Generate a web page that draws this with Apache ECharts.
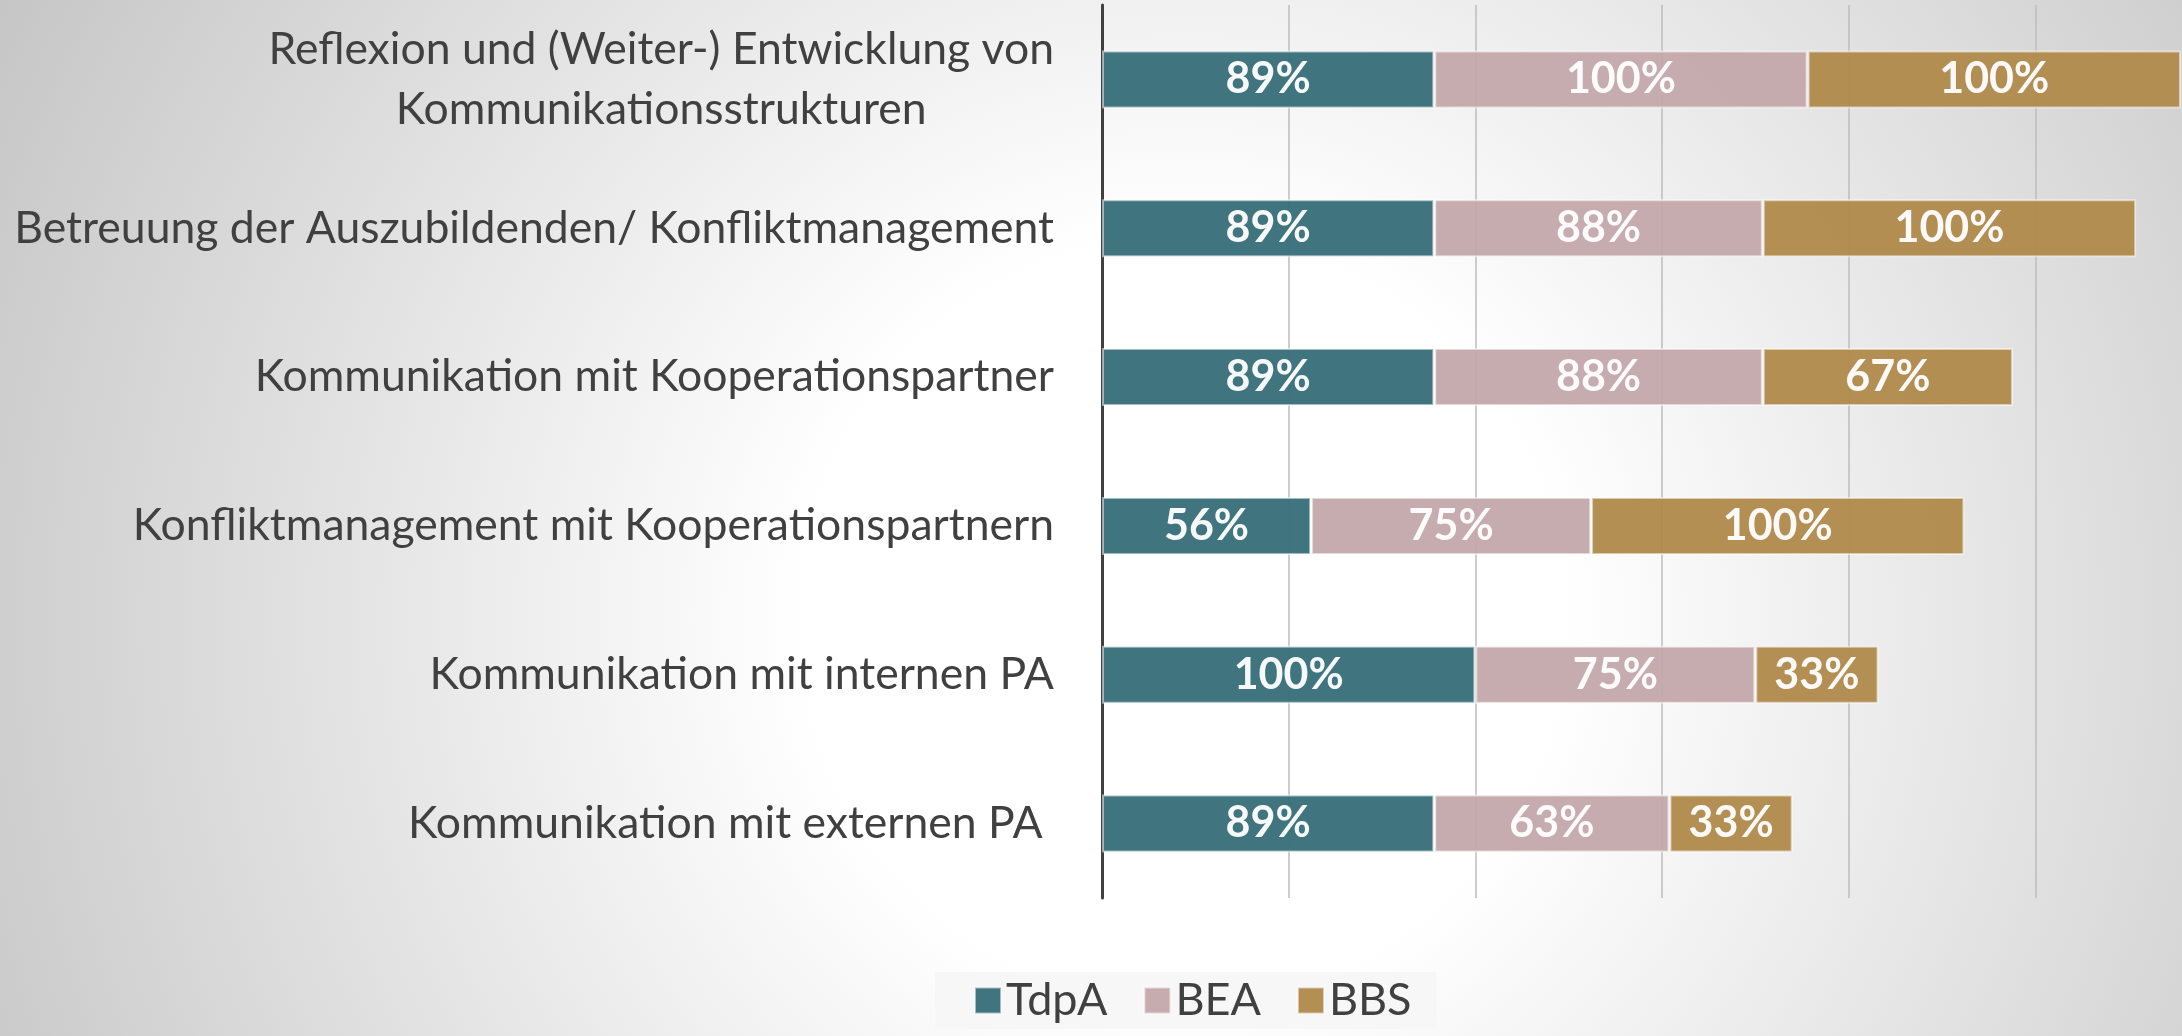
<!DOCTYPE html>
<html>
<head>
<meta charset="utf-8">
<script src="https://cdn.jsdelivr.net/npm/echarts@6/dist/echarts.min.js"></script>
<style>
  html, body { margin: 0; padding: 0; }
  body {
    width: 2182px; height: 1036px; overflow: hidden;
    background: radial-gradient(circle at 1183px 620px, #ffffff 0px, #ffffff 380px, #c6c6c6 1330px);
  }
  #chart { width: 2182px; height: 1036px; }
</style>
</head>
<body>
<div id="chart"></div>
<script>
const categories = [
  'Reflexion und (Weiter-) Entwicklung von\nKommunikationsstrukturen',
  'Betreuung der Auszubildenden/ Konfliktmanagement',
  'Kommunikation mit Kooperationspartner',
  'Konfliktmanagement mit Kooperationspartnern',
  'Kommunikation mit internen PA',
  'Kommunikation mit externen PA '
];
const seriesNames = ['TdpA', 'BEA', 'BBS'];
const tdpa = [89, 89, 89, 56, 100, 89];
const bea  = [100, 88, 88, 75, 75, 63];
const bbs  = [100, 100, 67, 100, 33, 33];
const colors = ['#386e79', '#c4a9ac', '#b08a4c'];

const FONT = 'Lato';
const chart = echarts.init(document.getElementById('chart'), null, { renderer: 'canvas' });

function mkSeries(name, data, color) {
  return {
    name: name,
    type: 'bar',
    stack: 'total',
    data: data,
    barCategoryGap: '61%',
    itemStyle: {
      color: color,
      opacity: 0.96,
      borderColor: 'rgba(255,255,255,0.55)',
      borderWidth: 2
    },
    label: {
      show: true,
      position: 'inside',
      formatter: '{c}%',
      color: '#ffffff',
      fontFamily: FONT,
      fontWeight: 'bold',
      fontSize: 43
    },
    emphasis: { disabled: true }
  };
}

chart.setOption({
  backgroundColor: 'transparent',
  animation: false,
  grid: { left: 1102, width: 1120, top: 5, bottom: 138, containLabel: false, outerBoundsMode: 'none' },
  xAxis: {
    type: 'value',
    min: 0, max: 300, interval: 50,
    axisLine: { show: false },
    axisTick: { show: false },
    axisLabel: { show: false },
    splitLine: { show: true, lineStyle: { color: '#bdbdbd', width: 1.5 } }
  },
  yAxis: {
    type: 'category',
    inverse: true,
    data: categories,
    axisLine: { show: true, lineStyle: { color: '#404040', width: 3 } },
    axisTick: { show: false },
    axisLabel: {
      margin: 48,
      color: '#404040',
      fontFamily: FONT,
      fontSize: 44.5,
      lineHeight: 60,
      formatter: function (v) {
        return v.split('\n').map(function (l) { return '{c|' + l + '}'; }).join('\n');
      },
      rich: {
        c: { align: 'center', fontFamily: FONT, fontSize: 44.5, lineHeight: 60, color: '#404040' }
      }
    }
  },
  legend: {
    data: seriesNames,
    left: 935,
    top: 972,
    padding: [6, 25, 6, 39],
    backgroundColor: 'rgba(246,246,246,0.9)',
    itemWidth: 26,
    itemHeight: 26,
    itemGap: 36,
    icon: 'rect',
    textStyle: { color: '#404040', fontFamily: FONT, fontSize: 45 }
  },
  series: [
    mkSeries(seriesNames[0], tdpa, colors[0]),
    mkSeries(seriesNames[1], bea, colors[1]),
    mkSeries(seriesNames[2], bbs, colors[2])
  ]
});
</script>
</body>
</html>
